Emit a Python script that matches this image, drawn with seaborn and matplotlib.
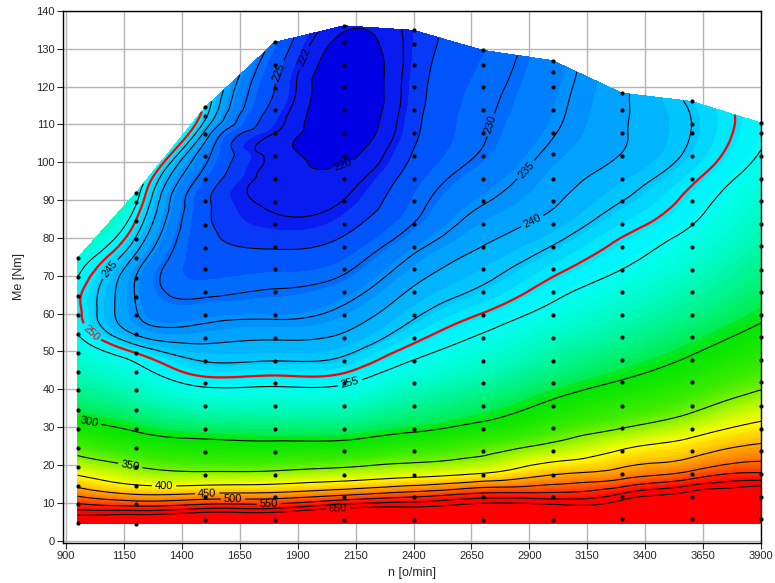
import numpy as np
import pandas as pd
import matplotlib
matplotlib.use("Agg")
import matplotlib.pyplot as plt
import matplotlib.tri as mtri
from matplotlib.colors import LinearSegmentedColormap, Normalize
import seaborn as sns

# Measured operating points per speed: torque Me [Nm] and specific fuel consumption be [g/kWh]
me_0950 = [74.7, 69.7, 64.6, 59.6, 54.7, 49.7, 44.7, 39.7, 34.6, 29.4, 24.5, 19.5, 14.5, 9.6, 4.6]
be_0950 = [261, 255, 251, 251.5, 254.7, 261, 269, 278.5, 291.5, 310.3, 336.6, 374.7, 442.5, 556.6, 740]

me_1200 = [91.8, 89.6, 84.5, 79.7, 74.6, 69.5, 64.5, 59.6, 54.7, 49.7, 44.6, 39.7, 34.6, 29.4, 24.5, 19.5, 14.5, 9.6, 4.5]
be_1200 = [259, 256.5, 250, 244.5, 238.7, 235, 234.8, 235.5, 239.5, 249.8, 258.8, 268, 280.6, 298, 318.6, 351, 404, 532, 790]

me_1500 = [114.5, 112.3, 107.6, 101.7, 95.7, 89.7, 83.5, 77.4, 71.8, 65.6, 59.6, 53.6, 47.5, 41.6, 35.5, 29.4, 23.4, 17.4, 11.5, 5.5]
be_1500 = [248.5, 246.5, 238.5, 231.5, 228, 225.8, 225.8, 226.3, 227.3, 229.2, 233.3, 238.4, 244.8, 253, 267.6, 289, 316, 359, 480, 760]

me_1800 = [131.7, 125.7, 119.7, 113.7, 107.7, 101.7, 95.7, 89.6, 83.6, 77.7, 71.7, 65.6, 59.6, 53.6, 47.5, 41.7, 35.5, 29.4, 23.4, 17.4, 11.4, 5.5]
be_1800 = [228.5, 226.3, 225, 223.8, 222, 221.3, 221.1, 221.5, 222.6, 224.7, 227.6, 230.4, 234, 239.5, 245, 253.2, 267, 286.6, 314.7, 361.7, 489, 760]

me_2100 = [136.1, 131.7, 125.8, 119.8, 113.8, 107.7, 101.7, 95.7, 89.7, 83.7, 77.5, 71.7, 65.6, 59.6, 53.6, 47.6, 41.7, 35.5, 29.4, 23.6, 17.4, 11.4, 5.5]
be_2100 = [220.5, 219.3, 218.3, 217.8, 217.8, 218.3, 219.5, 220.9, 222.1, 223.8, 226.4, 229.3, 232.9, 236.8, 241.0, 246.1, 254.1, 267.8, 287, 316.5, 373, 523, 820]

me_2400 = [134.9, 131.4, 125.8, 119.8, 113.8, 107.7, 101.7, 95.7, 89.7, 83.7, 77.5, 71.7, 65.6, 59.6, 53.6, 47.6, 41.7, 35.5, 29.4, 23.6, 17.4, 11.4, 5.5]
be_2400 = [223, 223, 223.2, 223.5, 223.8, 224.3, 225.3, 226.8, 228.3, 230.1, 233.8, 237.4, 240.9, 244.3, 248.6, 255.2, 264.8, 278, 296.5, 328.5, 388, 555, 800]

me_2700 = [129.6, 125.8, 119.8, 113.8, 107.7, 101.7, 95.7, 89.7, 83.7, 77.7, 71.7, 65.6, 59.6, 53.6, 47.6, 41.7, 35.5, 29.4, 23.6, 17.4, 11.4, 5.5]
be_2700 = [227.8, 228.2, 228.8, 229.3, 229.7, 230.5, 232.5, 234.6, 237.2, 240.1, 243.1, 246.1, 250.5, 256.4, 264, 274, 288, 309, 343, 408, 593, 850]

me_3000 = [126.9, 124.0, 119.8, 113.8, 107.7, 102.2, 95.7, 89.7, 83.7, 77.7, 71.7, 65.6, 59.6, 53.6, 47.6, 41.7, 35.5, 29.8, 23.6, 17.4, 11.5, 5.5]
be_3000 = [232.8, 233, 233.4, 233.9, 234.7, 236, 237.7, 239.3, 241.8, 245.2, 248.7, 252.9, 258.5, 266.7, 276, 288, 305.5, 327.7, 369.5, 450, 585, 850]

me_3300 = [118.3, 113.7, 107.7, 101.7, 95.7, 89.7, 83.7, 77.7, 71.6, 65.7, 59.7, 53.7, 47.7, 41.8, 35.7, 29.7, 23.7, 17.5, 11.6, 5.6]
be_3300 = [239.3, 239.4, 239.6, 240.2, 242.5, 245, 248, 251.3, 255.1, 261, 268.2, 277, 288, 302, 322, 350, 403.5, 476.5, 625, 815]

me_3600 = [116.1, 110.2, 107.7, 101.7, 95.7, 89.7, 83.7, 77.7, 71.6, 65.7, 59.7, 53.7, 47.7, 41.8, 35.7, 29.5, 23.7, 17.5, 11.6, 5.6]
be_3600 = [245.8, 245, 245.1, 246.2, 249, 251.8, 254.7, 259.5, 265.4, 272.2, 280.4, 290.5, 303, 319, 341, 379.5, 433, 520, 690, 840]

me_3900 = [110.4, 107.7, 101.7, 95.7, 89.7, 83.7, 78.0, 71.6, 65.7, 59.7, 53.7, 47.7, 41.8, 35.7, 29.5, 23.7, 17.5, 11.6, 5.6]
be_3900 = [253.3, 253.8, 255.6, 259, 263.5, 268.3, 273.4, 280.2, 287.3, 296, 308, 323, 342, 371.5, 416.5, 469, 559, 760, 870]

speeds = [950, 1200, 1500, 1800, 2100, 2400, 2700, 3000, 3300, 3600, 3900]
me_cols = [me_0950, me_1200, me_1500, me_1800, me_2100, me_2400,
           me_2700, me_3000, me_3300, me_3600, me_3900]
be_cols = [be_0950, be_1200, be_1500, be_1800, be_2100, be_2400,
           be_2700, be_3000, be_3300, be_3600, be_3900]

# Lower edge of the map (Me = 4.4 Nm) where it lies below the lowest measured point
floor_me = 4.4
floor_n = [1500, 1800, 2100, 2400, 2700, 3000, 3300, 3600, 3900]
floor_be = [830, 830, 890, 870, 920, 920, 880, 900, 930]

# Iso-lines and their label positions (None = unlabeled)
line_levels = [220, 222, 225, 230, 235, 240, 245, 255, 300, 350, 400, 450, 500, 550, 600, 650]
label_pos = {
    220: (2091, 99.9), 222: (1953, 127.1), 225: (1832, 123.6), 230: (2773, 109.1),
    235: (2911, 96.7), 240: (2916, 84.0), 245: (1077, 72.4), 255: (2126, 41.7),
    300: (995, 29.8), 350: (1176, 19.5), 400: (1323, 14.2), 450: (1509, 12.6),
    500: (1621, 10.7), 550: (1776, 9.7), 600: None, 650: (2074, 7.3),
}
red_level = 250
red_label_pos = (1012, 55.2)

# Colour scale anchors (be value -> RGB)
cmap_values = [214, 217, 220, 222, 225, 230, 235, 240, 245, 250, 255, 270, 290, 300,
               330, 360, 400, 430, 460, 500, 550, 600, 950]
cmap_colors = ["#0000d8", "#0000e6", "#0a1ef0", "#0a32f5", "#0050fa", "#0078ff", "#0096ff",
               "#00b4ff", "#00d2ff", "#00f0ff", "#00fff0", "#00f8b0", "#00ec50", "#00e600",
               "#3cec00", "#a0f500", "#ffff00", "#ffd200", "#ffa000", "#ff6e00", "#ff3200",
               "#ff0000", "#ff0000"]

# ---------------------------------------------------------------------------
rows = []
for n, mes, bes in zip(speeds, me_cols, be_cols):
    for t, b in zip(mes, bes):
        rows.append((n, t, b))
df = pd.DataFrame(rows, columns=["n", "Me", "be"])
edge = pd.DataFrame({"n": floor_n, "Me": floor_me, "be": floor_be})
grid_pts = pd.concat([df, edge], ignore_index=True)

full_load = [max(m) for m in me_cols]
low_load = [min(min(m), floor_me) if n in floor_n else min(m) for n, m in zip(speeds, me_cols)]

sns.set_style("white")
plt.rcParams["font.family"] = ["Liberation Sans", "DejaVu Sans"]

fig = plt.figure(figsize=(7.75, 5.83), dpi=100)
ax = fig.add_axes([63 / 775, 40 / 583, 698 / 775, 532 / 583])
ax.set_xlim(887, 3900)
ax.set_ylim(-0.63, 140)

# Delaunay on normalised coordinates (speed steps vs torque steps)
n_arr = grid_pts["n"].to_numpy(float)
t_arr = grid_pts["Me"].to_numpy(float)
tri_norm = mtri.Triangulation(n_arr / 300.0, t_arr / 6.0)
tris = tri_norm.triangles
cx = n_arr[tris].mean(axis=1)
cy = t_arr[tris].mean(axis=1)
inside = ((cy <= np.interp(cx, speeds, full_load) + 0.05)
          & (cy >= np.interp(cx, speeds, low_load) - 0.05))
tri = mtri.Triangulation(n_arr, t_arr, triangles=tris[inside])

# smooth interpolation of the efficiency-like quantity 1000/be, then back to be
refiner = mtri.UniformTriRefiner(tri)
tri_f, inv_f = refiner.refine_field(1000.0 / grid_pts["be"].to_numpy(float), subdiv=4)
be_f = 1000.0 / np.asarray(inv_f)

vmin, vmax = cmap_values[0], cmap_values[-1]
cmap = LinearSegmentedColormap.from_list(
    "bsfc", [((v - vmin) / (vmax - vmin), c) for v, c in zip(cmap_values, cmap_colors)])
norm = Normalize(vmin=vmin, vmax=vmax)

fill_levels = np.concatenate([np.arange(200, 260, 1.0), np.arange(260, 420, 3.0),
                              np.arange(420, 1400, 8.0)])
ax.tricontourf(tri_f, be_f, levels=fill_levels, cmap=cmap, norm=norm, zorder=1)

line_sets = {}
for lv in line_levels:
    line_sets[lv] = ax.tricontour(tri_f, be_f, levels=[lv], colors="black",
                                  linewidths=0.8, zorder=2)
cs_red = ax.tricontour(tri_f, be_f, levels=[red_level], colors="#ff0000",
                       linewidths=1.6, zorder=2)

sns.scatterplot(data=df, x="n", y="Me", color="black", s=9, linewidth=0, ax=ax,
                zorder=3, clip_on=False)

ax.set_xticks(np.arange(900, 3901, 250))
ax.set_yticks(np.arange(0, 141, 10))
ax.grid(True, color="#b4b4b4", linewidth=1.0)
ax.set_axisbelow(True)
for s in ax.spines.values():
    s.set_color("black")
    s.set_linewidth(1.0)
ax.tick_params(axis="both", direction="out", length=4, width=0.8, labelsize=8,
               left=True, bottom=True, pad=2)

ax.set_xlabel("n [o/min]", fontsize=9)
ax.set_ylabel("Me [Nm]", fontsize=9)
ax.xaxis.set_label_coords(0.5, -0.046)
ax.yaxis.set_label_coords(-0.055, 0.5)

for lv, pos in label_pos.items():
    if pos is None or len(line_sets[lv].allsegs[0]) == 0:
        continue
    ax.clabel(line_sets[lv], manual=[pos], inline=True, inline_spacing=3,
              fontsize=8, fmt="%d", colors="black")
ax.clabel(cs_red, manual=[red_label_pos], inline=True, inline_spacing=3,
          fontsize=8, fmt="%d", colors="#ff0000")

fig.savefig("out.png", dpi=100)
